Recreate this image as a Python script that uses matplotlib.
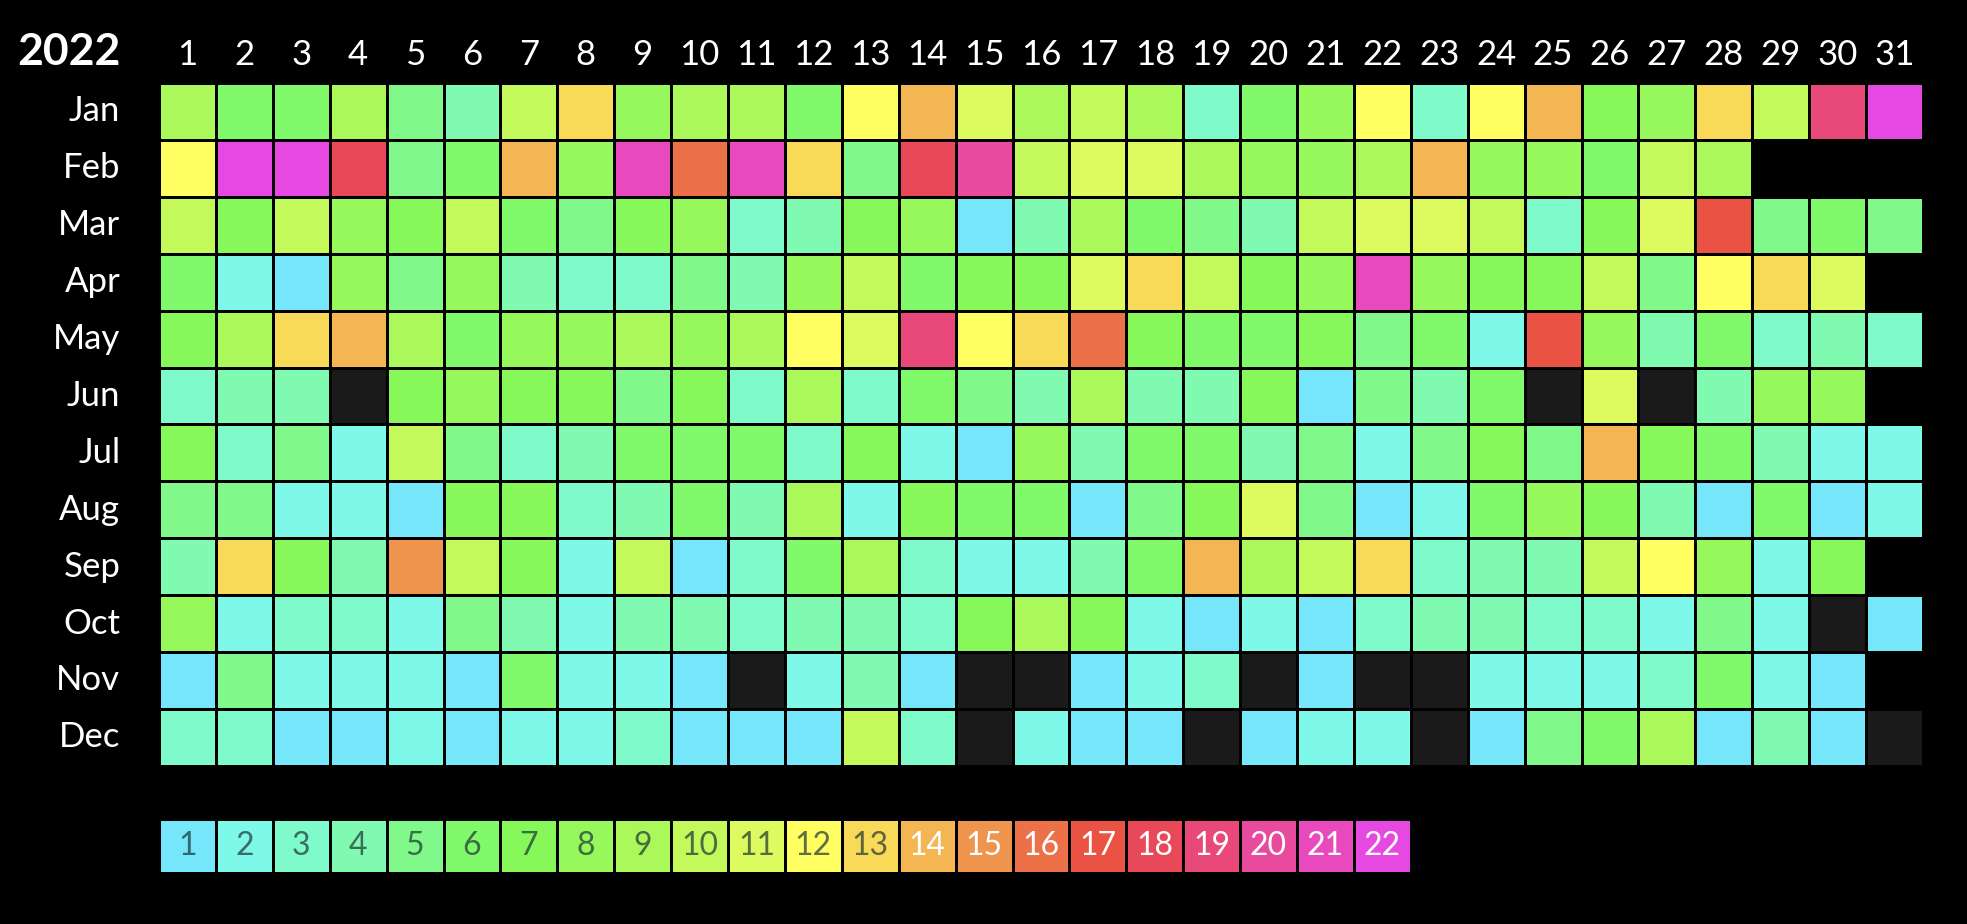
import numpy as np
import matplotlib
matplotlib.use("Agg")
import matplotlib.pyplot as plt
from matplotlib.colors import ListedColormap, BoundaryNorm

plt.rcParams['font.family'] = ['Lato', 'DejaVu Sans']

year = "2022"
months = ['Jan', 'Feb', 'Mar', 'Apr', 'May', 'Jun',
          'Jul', 'Aug', 'Sep', 'Oct', 'Nov', 'Dec']

# daily values, None = no data
jan = [9, 6, 6, 9, 5, 4, 10, 13, 8, 9, 9, 6, 12, 14, 11, 9, 10, 9, 3, 6, 8, 12, 3, 12, 14, 7, 8, 13, 10, 19, 22]
feb = [12, 22, 22, 18, 5, 6, 14, 8, 21, 16, 21, 13, 5, 18, 20, 10, 11, 11, 9, 8, 8, 9, 14, 8, 8, 6, 10, 9]
mar = [10, 7, 10, 8, 7, 10, 6, 5, 7, 8, 3, 4, 7, 8, 1, 4, 9, 6, 5, 4, 10, 11, 11, 10, 3, 7, 11, 17, 5, 6, 5]
apr = [6, 2, 1, 8, 5, 8, 4, 3, 3, 5, 4, 8, 10, 6, 7, 7, 11, 13, 10, 7, 8, 21, 8, 7, 7, 10, 5, 12, 13, 11]
may = [7, 9, 13, 14, 9, 6, 8, 8, 9, 8, 9, 12, 11, 19, 12, 13, 16, 7, 6, 6, 7, 5, 6, 2, 17, 8, 4, 6, 3, 4, 3]
jun = [3, 4, 4, None, 7, 8, 7, 7, 5, 7, 3, 9, 3, 6, 5, 4, 9, 4, 4, 7, 1, 5, 4, 6, None, 11, None, 4, 8, 8]
jul = [7, 3, 5, 2, 10, 5, 3, 4, 6, 6, 6, 3, 7, 2, 1, 8, 4, 6, 6, 4, 5, 2, 5, 7, 5, 14, 7, 6, 4, 2, 2]
aug = [5, 5, 2, 2, 1, 7, 7, 3, 4, 6, 4, 9, 2, 7, 6, 6, 1, 5, 7, 11, 5, 1, 2, 6, 8, 7, 4, 1, 6, 1, 2]
sep = [4, 13, 7, 4, 15, 10, 7, 2, 10, 1, 3, 6, 9, 3, 2, 2, 4, 6, 14, 9, 10, 13, 3, 4, 4, 10, 12, 8, 2, 7]
oct_ = [8, 2, 3, 3, 2, 5, 4, 2, 4, 4, 3, 4, 4, 3, 7, 9, 7, 2, 1, 2, 1, 3, 4, 4, 3, 3, 2, 5, 2, None, 1]
nov = [1, 5, 2, 2, 2, 1, 6, 2, 2, 1, None, 2, 4, 1, None, None, 1, 2, 3, None, 1, None, None, 2, 2, 2, 3, 6, 2, 1]
dec = [3, 3, 1, 1, 2, 1, 2, 2, 3, 1, 1, 1, 10, 3, None, 2, 1, 1, None, 1, 2, 2, None, 1, 5, 6, 9, 1, 4, 1, None]

levels = list(range(1, 23))
colors = ['#76E7FA', '#7EF9E9', '#7FFACB', '#80FAB0', '#80F98A', '#80F96A',
          '#86F85A', '#96F85A', '#AAF85A', '#C4F95C', '#DDFB5E', '#FFFF62',
          '#F8DA58', '#F4B652', '#EE944C', '#EC7048', '#EA5244', '#E84858',
          '#E8487A', '#E84A9E', '#E84ABE', '#E648E2']
missing_color = '#1A1A1A'

all_months = [jan, feb, mar, apr, may, jun, jul, aug, sep, oct_, nov, dec]

# 0 = missing data, nan = day does not exist
grid = np.full((12, 31), np.nan)
for i, m in enumerate(all_months):
    for d, v in enumerate(m):
        grid[i, d] = 0 if v is None else v

cmap = ListedColormap([missing_color] + colors)
cmap.set_bad((0, 0, 0, 0))
norm = BoundaryNorm(np.arange(-0.5, 23.5, 1), cmap.N)

W, H = 1967, 924
fig = plt.figure(figsize=(W / 100, H / 100), dpi=100, facecolor='black')
ax = fig.add_axes([0, 0, 1, 1])
ax.set_facecolor('black')

# pixel layout -> cell units
x0, y0, px = 159, 83, 56.9
ax.set_xlim(-x0 / px, (W - x0) / px)
ax.set_ylim((H - y0) / px, -y0 / px)
ax.axis('off')

ax.pcolormesh(np.arange(32), np.arange(13), np.ma.masked_invalid(grid),
              cmap=cmap, norm=norm, edgecolors='black', linewidth=2)

# day headers
for d in range(31):
    ax.text(d + 0.5, -0.32, str(d + 1), color='white', fontsize=25,
            ha='center', va='baseline')
ax.text(-0.68, -0.32, year, color='white', fontsize=32, fontweight='bold',
        ha='right', va='baseline')

for i, m in enumerate(months):
    ax.text(-0.68, i + 0.5, m, color='white', fontsize=25,
            ha='right', va='center')

# legend row
ly = 12.93
leg = np.array([levels], dtype=float)
ax.pcolormesh(np.arange(23), [ly, ly + 0.96], leg, cmap=cmap, norm=norm,
              edgecolors='black', linewidth=2)
for k, lv in enumerate(levels):
    tc = 'white' if lv >= 14 else (0.1, 0.2, 0.2, 0.7)
    ax.text(k + 0.5, ly + 0.48, str(lv), color=tc, fontsize=23,
            ha='center', va='center')

fig.savefig('out.png', dpi=100, facecolor='black')
